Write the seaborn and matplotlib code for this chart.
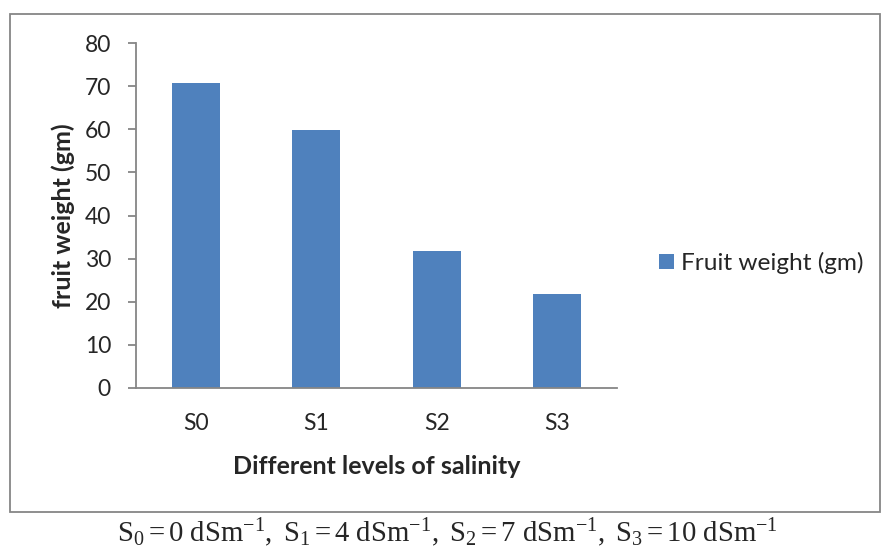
import matplotlib
matplotlib.use("Agg")
import matplotlib.pyplot as plt
import seaborn as sns
import pandas as pd
from matplotlib.patches import Rectangle, Patch

categories = ["S0", "S1", "S2", "S3"]
values = [70.7, 59.9, 31.8, 21.7]
series_name = "Fruit weight (gm)"
yticks = [0, 10, 20, 30, 40, 50, 60, 70, 80]

sns.set_theme(style="white")
plt.rcParams["font.family"] = ["Lato", "DejaVu Sans"]
plt.rcParams["mathtext.fontset"] = "custom"
plt.rcParams["mathtext.rm"] = "Liberation Serif"
plt.rcParams["mathtext.it"] = "Liberation Serif:italic"

df = pd.DataFrame({"level": categories, "weight": values})

fig = plt.figure(figsize=(8.82, 5.5), dpi=100)
ax = fig.add_axes([136/882, 1-388/550, (617-136)/882, (388-43)/550])

sns.barplot(data=df, x="level", y="weight", color="#4F81BD", width=0.4,
            saturation=1, ax=ax, edgecolor="none")

ax.set_ylim(0, 80)
ax.set_xlim(-0.5, 3.5)
ax.set_yticks(yticks)
ax.set_yticklabels([str(t) for t in yticks], fontsize=16.5)
ax.set_xticklabels(categories, fontsize=16.5)
for s in ["top", "right"]:
    ax.spines[s].set_visible(False)
for s in ["left", "bottom"]:
    ax.spines[s].set_color("#868686")
    ax.spines[s].set_linewidth(1.3)
ax.tick_params(axis="y", which="major", length=6, color="#868686", width=1.3, left=True, pad=12)
ax.tick_params(axis="x", length=0, pad=18)
ax.set_ylabel("fruit weight (gm)", fontsize=18, fontweight="bold")
ax.set_xlabel("Different levels of salinity", fontsize=18, fontweight="bold")
ax.xaxis.label.set_va("center")
ax.xaxis.set_label_coords(0.5, (388-466)/345)
ax.yaxis.label.set_va("center")
ax.yaxis.set_label_coords((63-136)/481, 0.5)

handles = [Patch(facecolor="#4F81BD", edgecolor="none")]
fig.legend(handles, [series_name], loc="center left",
           bbox_to_anchor=(659/882, 1-263/550), frameon=False, fontsize=17.6,
           handlelength=0.62, handleheight=0.62, handletextpad=0.3, borderpad=0, borderaxespad=0)

fig.patches.append(Rectangle((10/882, 1-512/550), (880-10)/882, (512-14)/550,
                             transform=fig.transFigure, fill=False,
                             edgecolor="#868686", linewidth=1.3))

caption = (r"$\mathrm{S_0 = 0\ dSm^{-1},\ S_1 = 4\ dSm^{-1},\ "
           r"S_2 = 7\ dSm^{-1},\ S_3 = 10\ dSm^{-1}}$")
fig.text(447/882, 1-533/550, caption, ha="center", va="center", fontsize=20.7)

fig.savefig("out.png", dpi=100)
